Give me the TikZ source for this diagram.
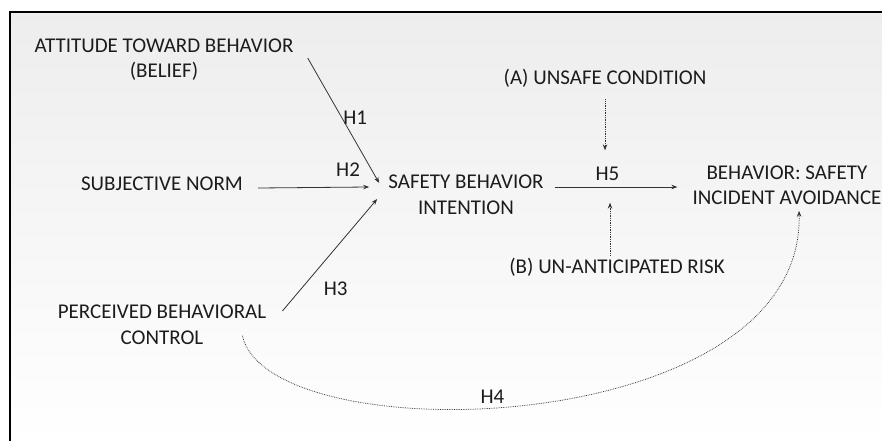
\documentclass[tikz,border=0pt]{standalone}
\usepackage{fontspec}
\setmainfont{Carlito}
\usetikzlibrary{arrows.meta}
\definecolor{txtgray}{HTML}{1C1C1C}
\definecolor{linegray}{HTML}{333333}
\begin{document}
\begin{tikzpicture}[x=1pt,y=-1pt,>={Stealth[length=6pt,width=4.5pt]},
 box/.style={inner sep=0pt,align=center,text=txtgray,font=\fontsize{21}{25.5}\selectfont},
 hyp/.style={inner sep=0pt,text=txtgray,font=\fontsize{21}{25.5}\selectfont},
 path/.style={->,linegray,line width=0.8pt},
 dotpath/.style={->,linegray,line width=0.75pt,densely dotted}]
 \useasboundingbox (0,0) rectangle (882,441);
 % background and frame
 \shade[top color=gray!14,bottom color=white] (10,12) rectangle (882,441);
 \draw[line width=2pt] (10,441) -- (10,12) -- (882,12);
 % constructs
 \node[box] (att) at (164,59.5) {ATTITUDE TOWARD BEHAVIOR\\(BELIEF)};
 \node[box] (subj) at (162,184) {SUBJECTIVE NORM};
 \node[box] (pbc) at (162,325) {PERCEIVED BEHAVIORAL\\CONTROL};
 \node[box] (sbi) at (466,195) {SAFETY BEHAVIOR\\INTENTION};
 \node[box] (beh) at (787,185.5) {BEHAVIOR: SAFETY\\INCIDENT AVOIDANCE};
 \node[box] (unsafe) at (605,78) {(A) UNSAFE CONDITION};
 \node[box] (risk) at (617,267) {(B) UN-ANTICIPATED RISK};
 % hypotheses
 \draw[path] ([shift={(14,-1.5)}]att.east) -- ([shift={(-9,-12)}]sbi.west)
 node[hyp,pos=0.48,right=1pt] (h1) {H1};
 \draw[path] ([shift={(15,4)}]subj.east) -- ([shift={(-19,-8)}]sbi.west)
 node[hyp,pos=0.81,above=10pt] (h2) {H2};
 \draw[path] ([shift={(16,-14)}]pbc.east) -- ([shift={(-11,4)}]sbi.west)
 node[hyp,pos=0.2,right=22pt] (h3) {H3};
 \draw[path] ([shift={(11,-8)}]sbi.east) -- ([shift={(-15,1.5)}]beh.west)
 node[hyp,pos=0.43,above=5.5pt] (h5) {H5};
 \draw[dotpath] ([shift={(0,12)}]unsafe.south) -- ++(0,51);
 \draw[dotpath] ([shift={(-7,-2)}]risk.north) -- ++(0,-53);
 \draw[dotpath] ([shift={(-24,-9)}]pbc.south east) .. controls (270,455) and (805,440) .. ([shift={(12,5.5)}]beh.south)
 node[hyp,pos=0.45,above=4pt] (h4) {H4};
\end{tikzpicture}
\end{document}
